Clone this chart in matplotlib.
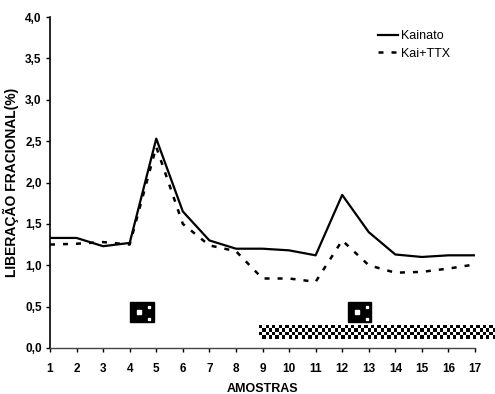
import numpy as np
import matplotlib.pyplot as plt
from matplotlib.patches import Rectangle

plt.rcParams['font.family'] = ['Liberation Sans', 'DejaVu Sans']

amostras = np.arange(1, 18)
kainato = [1.33, 1.33, 1.23, 1.27, 2.53, 1.65, 1.30, 1.20, 1.20, 1.18, 1.12,
           1.85, 1.40, 1.13, 1.10, 1.12, 1.12]
kai_ttx = [1.25, 1.26, 1.28, 1.25, 2.43, 1.50, 1.24, 1.17, 0.84, 0.84, 0.80,
           1.30, 1.00, 0.91, 0.92, 0.96, 1.01]

yticks = np.arange(0, 4.01, 0.5)
ytick_labels = [f"{v:.1f}".replace('.', ',') for v in yticks]

# stimulus markers (x start, x end) and the TTX bar
boxes = [(4.0, 4.9), (12.2, 13.1)]
ttx_bar = (8.85, 17.75)

fig = plt.figure(figsize=(4.95, 3.94), dpi=100)
ax = fig.add_axes([50/495, 46/394, 425/495, 331/394])

ax.plot(amostras, kainato, color='black', lw=1.6, label='Kainato')
ax.plot(amostras, kai_ttx, color='black', lw=1.8, linestyle=(0, (2, 3.2)),
        label='Kai+TTX')

ax.set_xlim(1, 17)
ax.set_ylim(0, 4.0)
ax.set_xticks(amostras)
ax.set_xticklabels([str(a) for a in amostras], fontweight='bold', fontsize=8.5)
ax.set_yticks(yticks)
ax.set_yticklabels(ytick_labels, fontweight='bold', fontsize=8.5)
ax.tick_params(direction='out', length=3, width=1)
ax.tick_params(axis='y', pad=3)
ax.tick_params(axis='x', pad=7.5)
for s in ['top', 'right']:
    ax.spines[s].set_visible(False)
ax.spines['left'].set_linewidth(1.2)
ax.spines['bottom'].set_linewidth(1.0)
ax.spines['bottom'].set_color('#444444')

ax.set_xlabel('AMOSTRAS', fontweight='bold', fontsize=9, labelpad=6)
ax.set_ylabel('LIBERAÇÃO FRACIONAL(%)', fontweight='bold', fontsize=10,
              labelpad=4)

# black stimulus boxes with white dots
for x0, x1 in boxes:
    ax.add_patch(Rectangle((x0, 0.31), x1 - x0, 0.24, color='black',
                           clip_on=False, zorder=3))
    w = x1 - x0
    ax.plot([x0 + w * 0.38], [0.43], 's', color='white', ms=2.2, zorder=4)
    ax.plot([x0 + w * 0.82, x0 + w * 0.82], [0.49, 0.35], 's', color='white',
            ms=1.4, zorder=4)

# checkered TTX bar
n_cols, n_rows = 72, 4
checker = (np.add.outer(np.arange(n_rows), np.arange(n_cols)) % 2)
ax.imshow(checker, cmap='gray', interpolation='nearest', aspect='auto',
          extent=(ttx_bar[0], ttx_bar[1], 0.11, 0.27), clip_on=False,
          zorder=3)
ax.set_xlim(1, 17)
ax.set_ylim(0, 4.0)

leg = ax.legend(loc='upper left', bbox_to_anchor=(0.745, 0.995), frameon=False,
                fontsize=9, handlelength=1.6, handletextpad=0.25,
                labelspacing=0.45)

fig.savefig('out.png', dpi=100)
